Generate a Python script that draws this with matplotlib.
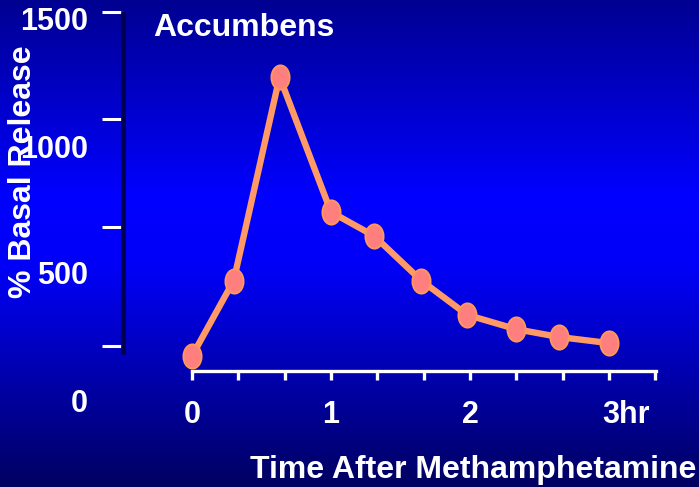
import numpy as np
import matplotlib
matplotlib.use("Agg")
import matplotlib.pyplot as plt
from matplotlib.path import Path
from matplotlib import transforms
from matplotlib.colors import LinearSegmentedColormap

# ---- data ----
time_hr = [0.0, 0.30, 0.63, 1.0, 1.31, 1.65, 1.98, 2.33, 2.64, 3.0]
release_pct = [177, 474, 1276, 744, 650, 474, 339, 283, 252, 228]
y_label_values = [0, 500, 1000, 1500]
x_label_values = [0, 1, 2]
x_label_texts = ["0", "1", "2"]
last_label_value = 3
last_label_text = "3hr"
title = "Accumbens"
xlabel = "Time After Methamphetamine"
ylabel = "% Basal Release"

W, H, DPI = 699, 487, 100
plt.rcParams['font.family'] = ['Liberation Sans', 'DejaVu Sans']
FS_NUM = 22
FS_TXT = 23

fig = plt.figure(figsize=(W / DPI, H / DPI), dpi=DPI)

# background gradient
bg = fig.add_axes([0, 0, 1, 1], zorder=-10)
cmap = LinearSegmentedColormap.from_list(
    "bg", [(0.0, (0, 0, 0.57)), (0.40, (0, 0, 1.0)), (0.55, (0, 0, 0.97)),
           (1.0, (0, 0, 0.38))])
grad = np.linspace(0, 1, 512).reshape(-1, 1)
bg.imshow(grad, aspect='auto', cmap=cmap, extent=[0, 1, 0, 1], origin='upper')
bg.set_axis_off()

# main axes (pixel geometry)
px_left, px_right, px_top, px_bottom = 123, 656, 12, 371
ax = fig.add_axes([px_left / W, (H - px_bottom) / H,
                   (px_right - px_left) / W, (px_bottom - px_top) / H])
ax.patch.set_alpha(0)

x0_px, px_per_hr = 192, 139.0
ax.set_xlim((px_left - x0_px) / px_per_hr, (px_right - x0_px) / px_per_hr)
zero_px, px_per_pct = 401, 381 / 1500
ax.set_ylim((zero_px - px_bottom) / px_per_pct, (zero_px - px_top) / px_per_pct)

# ellipse marker
circ = Path.unit_circle()
ell = Path(circ.vertices * np.array([0.75, 1.0]), circ.codes)

ax.plot(time_hr, release_pct, color='#FF9966', lw=4.6, solid_joinstyle='round',
        marker=ell, markersize=17.5, markerfacecolor='#FF7F7F',
        markeredgecolor='#FF9955', markeredgewidth=1.3, clip_on=False, zorder=5)

# spines
for s in ['top', 'right']:
    ax.spines[s].set_visible(False)
xmax = (px_right - x0_px) / px_per_hr
ax.spines['bottom'].set_bounds(0, xmax)
ax.spines['bottom'].set_color('white')
ax.spines['bottom'].set_linewidth(2.4)
ax.spines['left'].set_color('#000050')
ax.spines['left'].set_linewidth(3.4)
ax.spines['left'].set_bounds((zero_px - 352) / px_per_pct, (zero_px - 13) / px_per_pct)

# x ticks every 20 min
ax.set_xticks(np.arange(0, 11) / 3.0)
ax.set_xticklabels([])
ax.tick_params(axis='x', direction='out', length=6.5, width=2.4, color='white')

# y tick marks (drawn slightly offset from the label values, as in the slide)
tick_px = [346, 227, 119, 12]
ax.set_yticks([(zero_px - p) / px_per_pct for p in tick_px])
ax.set_yticklabels([])
ax.tick_params(axis='y', direction='out', length=15, width=2.2, color='white', pad=0)

# y labels
ytrans = transforms.blended_transform_factory(fig.transFigure, ax.transData)
ytrans = transforms.offset_copy(ytrans, fig=fig, y=-10.5, units='dots')
for v in y_label_values:
    ax.text(88 / W, v, str(v), transform=ytrans, ha='right', va='baseline',
            color='white', fontsize=FS_NUM, fontweight='bold', clip_on=False)

# x labels
xtrans = transforms.blended_transform_factory(ax.transData, fig.transFigure)
for v, t in zip(x_label_values, x_label_texts):
    ax.text(v, (H - 423) / H, t, transform=xtrans, ha='center', va='baseline',
            color='white', fontsize=FS_NUM, fontweight='bold', clip_on=False)
ax.text(last_label_value - 7 / px_per_hr, (H - 423) / H, last_label_text,
        transform=xtrans, ha='left', va='baseline', color='white',
        fontsize=FS_NUM, fontweight='bold', clip_on=False)

fig.text(153 / W, (H - 36) / H, title, ha='left', va='baseline', color='white',
         fontsize=FS_TXT, fontweight='bold')
fig.text(250 / W, (H - 478) / H, xlabel, ha='left', va='baseline', color='white',
         fontsize=FS_TXT, fontweight='bold')
fig.text(23 / W, (H - 172) / H, ylabel, ha='center', va='center', rotation=90,
         color='white', fontsize=FS_TXT, fontweight='bold')

fig.savefig("out.png", dpi=DPI)
